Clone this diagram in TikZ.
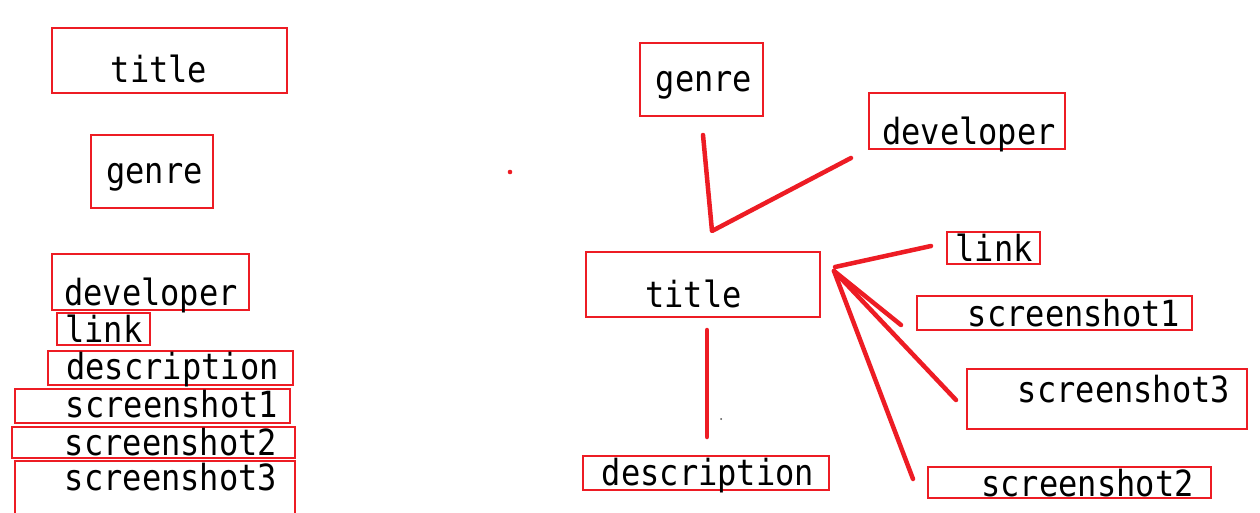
\documentclass[tikz,border=0pt]{standalone}
\usepackage{fontspec}
\newfontfamily\monofont[FakeStretch=0.89]{DejaVu Sans Mono}
\definecolor{pred}{HTML}{ED1C24}
\begin{document}
\begin{tikzpicture}[x=1pt,y=-1pt,
  box/.style={draw=pred, line width=1.3pt, inner sep=0pt},
  lbl/.style={anchor=base, inner sep=0pt, font=\monofont\fontsize{36}{40}\selectfont, text=black},
  stroke/.style={draw=pred, line width=4.5pt, line cap=round, line join=round}]
\useasboundingbox (0,0) rectangle (1260,513);
% left column boxes
\node[box, minimum width=235pt, minimum height=65pt] (lTitle) at (169.5,60.5) {};
\node[box, minimum width=122pt, minimum height=73pt] (lGenre) at (152,171.5) {};
\node[box, minimum width=197pt, minimum height=56pt] (lDev) at (150.5,282) {};
\node[box, minimum width=93pt, minimum height=32pt] (lLink) at (103.5,329) {};
\node[box, minimum width=245pt, minimum height=34pt] (lDesc) at (170.5,368) {};
\node[box, minimum width=275pt, minimum height=34pt] (lShotA) at (152.5,406) {};
\node[box, minimum width=283pt, minimum height=31pt] (lShotB) at (153.5,442.5) {};
\coordinate (lS3a) at (15,513);
\coordinate (lS3b) at (15,461);
\coordinate (lS3c) at (295,461);
\coordinate (lS3d) at (295,513);
\draw[box] (lS3a) -- (lS3b) -- (lS3c) -- (lS3d);
% left column texts
\node[lbl] (tlTitle) at (159,83) {title};
\node[lbl] (tlGenre) at (154.5,183) {genre};
\node[lbl] (tlDev) at (151,305) {developer};
\node[lbl] (tlLink) at (104,342) {link};
\node[lbl] (tlDesc) at (172.5,379) {description};
\node[lbl] (tlShotA) at (172,417) {screenshot1};
\node[lbl] (tlShotB) at (171,455) {screenshot2};
\node[lbl] (tlShotC) at (171,490) {screenshot3};
% stray dot
\fill[pred] (510,172) circle (2.3pt);
% right boxes
\node[box, minimum width=123pt, minimum height=73pt] (rGenre) at (701.5,79.5) {};
\node[box, minimum width=196pt, minimum height=56pt] (rDev) at (967,121) {};
\node[box, minimum width=234pt, minimum height=65pt] (rTitle) at (703,284.5) {};
\node[box, minimum width=93pt, minimum height=32pt] (rLink) at (993.5,248) {};
\node[box, minimum width=275pt, minimum height=34pt] (rShotA) at (1054.5,313) {};
\node[box, minimum width=280pt, minimum height=60pt] (rShotC) at (1107,399) {};
\node[box, minimum width=283pt, minimum height=31pt] (rShotB) at (1069.5,482.5) {};
\node[box, minimum width=246pt, minimum height=34pt] (rDesc) at (706,473) {};
% right texts
\node[lbl] (trGenre) at (704,92) {genre};
\node[lbl] (trDev) at (969,145) {developer};
\node[lbl] (trTitle) at (693.5,307) {title};
\node[lbl] (trLink) at (994,261) {link};
\node[lbl] (trShotA) at (1074,326) {screenshot1};
\node[lbl] (trShotC) at (1124,402) {screenshot3};
\node[lbl] (trShotB) at (1087.5,496) {screenshot2};
\node[lbl] (trDesc) at (708,485) {description};
% connector end points
\coordinate (gTop) at (703,135);
\coordinate (vApex) at (712,231);
\coordinate (devEnd) at (851,158);
\coordinate (linkEnd) at (931,246);
\coordinate (hub) at (835,267);
\coordinate (hubB) at (834,271);
\coordinate (sAEnd) at (901,325);
\coordinate (sCEnd) at (956,400);
\coordinate (sBEnd) at (913,479);
\coordinate (dTop) at (707,330);
\coordinate (dBot) at (707,437);
\draw[stroke] (gTop) -- (vApex) -- (devEnd);
\draw[stroke] (linkEnd) -- (hub);
\draw[stroke] (hubB) -- (sAEnd);
\draw[stroke] (hubB) -- (sCEnd);
\draw[stroke] (hubB) -- (sBEnd);
\draw[stroke] (dTop) -- (dBot);
\fill[black!70] (721,419) circle (1pt);
\end{tikzpicture}
\end{document}
